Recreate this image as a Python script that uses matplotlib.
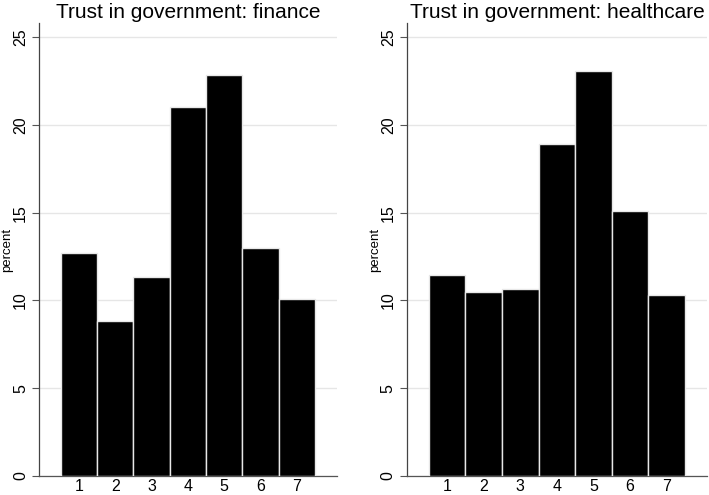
import matplotlib
matplotlib.use("Agg")
import matplotlib.pyplot as plt

categories = [1, 2, 3, 4, 5, 6, 7]
finance_pct = [12.72, 8.81, 11.35, 21.03, 22.87, 13.0, 10.08]
healthcare_pct = [11.45, 10.46, 10.67, 18.89, 23.08, 15.07, 10.29]
titles = ["Trust in government: finance", "Trust in government: healthcare"]
yticks = [0, 5, 10, 15, 20, 25]

plt.rcParams["font.family"] = ["Liberation Sans", "DejaVu Sans"]

fig = plt.figure(figsize=(7.09, 4.95), dpi=100)
ax1 = fig.add_axes([0.055, 0.0384, 0.42, 0.915])
ax2 = fig.add_axes([0.574, 0.0384, 0.423, 0.915])

for ax, vals, title in zip([ax1, ax2], [finance_pct, healthcare_pct], titles):
    ax.bar(categories, vals, width=1.0, color="black", edgecolor="#e8e8e8", linewidth=1.0, zorder=3)
    ax.set_xlim(-0.1, 8.1)
    ax.set_ylim(0, 25.8)
    ax.set_yticks(yticks)
    ax.set_yticklabels([str(t) for t in yticks], rotation=90, va="center", fontsize=11.5)
    ax.set_xticks(categories)
    ax.set_xticklabels([str(c) for c in categories], fontsize=11.5)
    ax.tick_params(axis="x", length=0, pad=2)
    ax.tick_params(axis="y", length=5, width=0.8, color="#555555", pad=3)
    ax.yaxis.grid(True, color="#e6e6e6", linewidth=1.0, zorder=0)
    ax.set_axisbelow(True)
    for s in ["top", "right"]:
        ax.spines[s].set_visible(False)
    ax.spines["left"].set_color("#444444")
    ax.spines["bottom"].set_color("#555555")
    ax.spines["left"].set_linewidth(0.9)
    ax.spines["bottom"].set_linewidth(0.9)
    ax.set_ylabel("percent", fontsize=9.5)
    ax.yaxis.set_label_coords(-0.086, 0.5)
    ax.set_title(title, fontsize=15, pad=4)

fig.savefig("out.png", dpi=100)
